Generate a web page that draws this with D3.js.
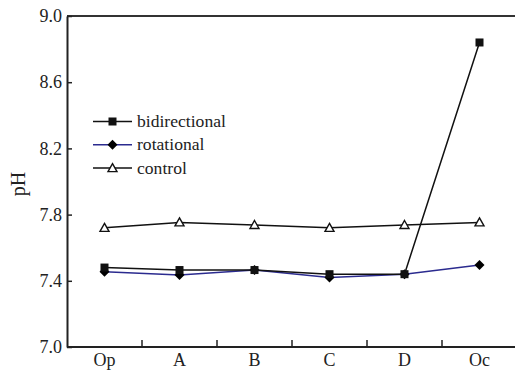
<!DOCTYPE html>
<html>
<head>
<meta charset="utf-8">
<script src="https://cdn.jsdelivr.net/npm/d3@7"></script>
<style>
  html, body { margin: 0; padding: 0; background: #fff; }
  svg { display: block; }
  svg text { font-family: "Liberation Serif", "DejaVu Serif", serif; }
</style>
</head>
<body>
<svg id="chart" width="515" height="371"></svg>
<script>
// Sampling stages along the x axis
const stages = ["Op", "A", "B", "C", "D", "Oc"];
// pH readings per treatment
const bidirectional = [7.48, 7.465, 7.465, 7.44, 7.44, 8.84];
const rotational = [7.455, 7.435, 7.465, 7.42, 7.44, 7.495];
const control = [7.72, 7.753, 7.737, 7.72, 7.737, 7.753];
// Y axis tick values
const yTicks = [7.0, 7.4, 7.8, 8.2, 8.6, 9.0];

const series = [
  { name: "bidirectional", values: bidirectional, color: "#111", marker: "square" },
  { name: "rotational", values: rotational, color: "#2b2b8f", marker: "diamond" },
  { name: "control", values: control, color: "#111", marker: "triangle" }
];

const FONT = "Liberation Serif, DejaVu Serif, serif";
const svg = d3.select("#chart");
const m = { left: 67, right: 517, top: 16, bottom: 347 };

const x = d3.scaleBand().domain(stages).range([m.left, m.right]).paddingInner(0).paddingOuter(0);
const y = d3.scaleLinear().domain([7.0, 9.0]).range([m.bottom, m.top]);
const cx = d => x(d) + x.bandwidth() / 2;

// Frame: top border
svg.append("line")
  .attr("x1", m.left).attr("x2", 515).attr("y1", m.top).attr("y2", m.top)
  .attr("stroke", "#333").attr("stroke-width", 2);

// Y axis with inward ticks
const yAxis = svg.append("g")
  .attr("transform", `translate(${m.left},0)`)
  .call(d3.axisLeft(y).tickValues(yTicks).tickFormat(d3.format(".1f")).tickSizeInner(-5).tickSizeOuter(0).tickPadding(5));
yAxis.attr("font-family", FONT);
yAxis.select(".domain").attr("stroke", "#222").attr("stroke-width", 2);
yAxis.selectAll(".tick line").attr("stroke", "#222").attr("stroke-width", 1.5);
yAxis.selectAll(".tick text").attr("font-size", 18).attr("fill", "#222")
  .attr("font-family", FONT);

// X axis: ticks on band boundaries, labels at band centres
const xAxis = svg.append("g").attr("transform", `translate(0,${m.bottom})`);
xAxis.append("line")
  .attr("x1", m.left).attr("x2", 515).attr("y1", 0).attr("y2", 0)
  .attr("stroke", "#222").attr("stroke-width", 2);
xAxis.selectAll("line.tk").data(stages.slice(1)).enter().append("line")
  .attr("class", "tk")
  .attr("x1", d => x(d)).attr("x2", d => x(d))
  .attr("y1", 0).attr("y2", -7)
  .attr("stroke", "#222").attr("stroke-width", 1.5);
xAxis.selectAll("text").data(stages).enter().append("text")
  .attr("x", d => cx(d)).attr("y", 18.5)
  .attr("text-anchor", "middle").attr("font-size", 18).attr("fill", "#222")
  .attr("font-family", FONT)
  .text(d => d);

// Y axis title
svg.append("text")
  .attr("transform", `translate(25,184) rotate(-90)`)
  .attr("text-anchor", "middle").attr("font-size", 20).attr("fill", "#222")
  .attr("font-family", FONT)
  .text("pH");

function drawMarker(g, type, px, py, color) {
  if (type === "square") {
    g.append("rect").attr("x", px - 4).attr("y", py - 4).attr("width", 8).attr("height", 8).attr("fill", color);
  } else if (type === "diamond") {
    g.append("path").attr("d", `M${px},${py - 5}L${px + 5},${py}L${px},${py + 5}L${px - 5},${py}Z`).attr("fill", "#000");
  } else {
    g.append("path").attr("d", `M${px},${py - 4.5}L${px + 4.5},${py + 3.5}L${px - 4.5},${py + 3.5}Z`)
      .attr("fill", "#fff").attr("stroke", "#111").attr("stroke-width", 1.4);
  }
}

const line = d3.line().x((d, i) => cx(stages[i])).y(d => y(d));

// Draw in order: control, rotational, bidirectional
[series[2], series[1], series[0]].forEach(s => {
  const g = svg.append("g");
  g.append("path").attr("d", line(s.values)).attr("fill", "none")
    .attr("stroke", s.color).attr("stroke-width", 1.5);
  s.values.forEach((v, i) => drawMarker(g, s.marker, cx(stages[i]), y(v), s.color));
});

// Legend
const legend = svg.append("g");
series.forEach((s, i) => {
  const ly = 121.5 + i * 23.3;
  legend.append("line").attr("x1", 93).attr("x2", 132).attr("y1", ly).attr("y2", ly)
    .attr("stroke", s.color).attr("stroke-width", 1.5);
  drawMarker(legend, s.marker, 112.5, ly, s.color);
  legend.append("text").attr("x", 137).attr("y", ly + 5.5)
    .attr("font-size", 17.6).attr("fill", "#222").attr("font-family", FONT).text(s.name);
});
</script>
</body>
</html>
